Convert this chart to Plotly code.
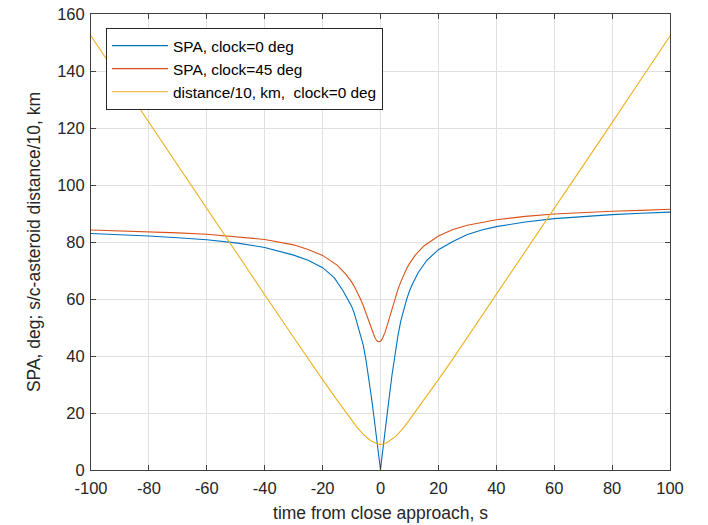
import plotly.graph_objects as go

# time from close approach, s
t_blue = [-100, -90, -80, -70, -60, -50, -40, -30, -25, -20, -16, -13, -12, -11, -10, -9, -8, -7, -6, -5, -4, -3, -2, -1.5, -1, -0.5, 0,
          0.5, 1, 1.5, 2, 3, 4, 5, 6, 7, 8, 9, 10, 11, 13, 16, 20, 25, 30, 35, 40, 50, 60, 70, 80, 90, 100]
spa_clock0 = [83.0, 82.6, 82.1, 81.5, 80.8, 79.7, 78.1, 75.4, 73.6, 71.0, 67.5, 63.0, 61.3, 59.5, 57.5, 54.8, 51.5, 48.0, 44.0, 38.5, 32.0, 24.5, 16.5, 12.3, 8.2, 4.1, 0.0,
              4.5, 9.0, 13.3, 17.5, 25.5, 33.5, 41.0, 47.0, 52.2, 56.4, 59.8, 62.8, 65.2, 69.2, 73.6, 77.3, 80.2, 82.6, 84.2, 85.4, 87.0, 88.2, 89.0, 89.6, 90.1, 90.5]

t_red = [-100, -90, -80, -70, -60, -50, -40, -30, -25, -20, -15, -12, -11, -10, -9, -8, -7, -6, -5, -4, -3, -2, -1.5, -1, -0.5, 0,
         0.5, 1, 1.5, 2, 3, 4, 5, 6, 7, 8, 9, 10, 11, 12, 15, 20, 25, 30, 40, 50, 60, 70, 80, 90, 100]
spa_clock45 = [84.2, 83.9, 83.6, 83.2, 82.7, 81.9, 80.9, 79.0, 77.4, 75.3, 71.9, 68.7, 67.4, 66.0, 64.3, 62.5, 60.2, 57.8, 55.0, 52.0, 49.0, 46.6, 45.7, 45.1, 45.0, 45.2,
               45.8, 46.8, 48.1, 49.7, 53.2, 56.8, 60.2, 63.3, 66.0, 68.5, 70.6, 72.4, 74.0, 75.4, 78.6, 82.1, 84.4, 85.9, 87.8, 89.0, 89.8, 90.4, 90.8, 91.1, 91.5]

t_dist = [-100, -90, -80, -70, -60, -50, -40, -30, -25, -20, -15, -10, -8, -6, -5, -4, -3, -2, -1, 0,
          1, 2, 3, 4, 5, 6, 8, 10, 15, 20, 25, 30, 40, 50, 60, 70, 80, 90, 100]
dist_div10 = [152.3, 137.1, 121.9, 106.8, 91.6, 76.5, 61.5, 46.5, 39.0, 31.7, 24.5, 17.6, 14.9, 12.6, 11.6, 10.8, 10.1, 9.5, 9.1, 9.0,
              9.1, 9.5, 10.1, 10.8, 11.6, 12.6, 14.9, 17.6, 24.5, 31.7, 39.0, 46.5, 61.5, 76.5, 91.6, 106.8, 121.9, 137.1, 152.3]

names = ["SPA, clock=0 deg", "SPA, clock=45 deg", "distance/10, km,\u00a0 clock=0 deg"]
x_ticks = [-100, -80, -60, -40, -20, 0, 20, 40, 60, 80, 100]
y_ticks = [0, 20, 40, 60, 80, 100, 120, 140, 160]

colors = ["#0072BD", "#D95319", "#EDB120"]
FONT = "Liberation Sans, Arial, sans-serif"
TXT = "#262626"

fig = go.Figure()
for xs, ys, nm, c in [(t_blue, spa_clock0, names[0], colors[0]),
                      (t_red, spa_clock45, names[1], colors[1]),
                      (t_dist, dist_div10, names[2], colors[2])]:
    fig.add_trace(go.Scatter(x=xs, y=ys, mode="lines", name=nm,
                             line=dict(color=c, width=1.1)))

axis_common = dict(showline=True, linecolor="#404040", linewidth=1, mirror="ticks",
                   ticks="inside", ticklen=5, tickcolor="#404040", tickwidth=1,
                   showgrid=True, gridcolor="#e0e0e0", gridwidth=1, zeroline=False,
                   automargin=False, ticklabeloverflow="allow",
                   tickfont=dict(family=FONT, size=16.5, color=TXT))

fig.update_layout(
    width=708, height=525,
    margin=dict(l=91, r=38, t=14, b=55, autoexpand=False),
    paper_bgcolor="white", plot_bgcolor="white",
    font=dict(family=FONT, color=TXT),
    xaxis=dict(range=[-100, 100], tickvals=x_ticks, ticktext=[str(v) for v in x_ticks],
               ticklabelstandoff=3,
               title=dict(text="time from close approach, s", font=dict(size=17.5, family=FONT, color=TXT), standoff=10),
               **axis_common),
    yaxis=dict(range=[0, 160], tickvals=y_ticks, ticktext=[str(v) for v in y_ticks],
               ticklabelstandoff=2,
               title=dict(text="SPA, deg; s/c-asteroid distance/10, km", font=dict(size=17.5, family=FONT, color=TXT), standoff=12),
               **axis_common),
    legend=dict(x=0.0259, y=0.969, xanchor="left", yanchor="top",
                bgcolor="white", bordercolor="#262626", borderwidth=1,
                font=dict(family=FONT, size=15.4, color="#000000"),
                itemwidth=56, tracegroupgap=0),
    showlegend=True,
)

# remove the default 8px page margin so the figure fills the window exactly
fig.write_html("out.html", config={"displayModeBar": False},
               post_script="document.body.style.margin='0';")
